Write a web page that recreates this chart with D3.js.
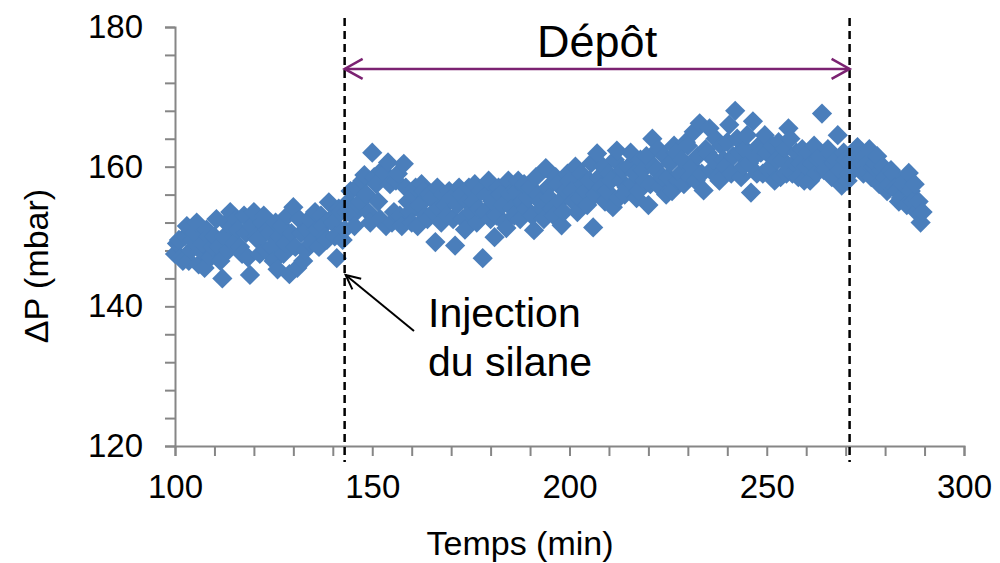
<!DOCTYPE html>
<html>
<head>
<meta charset="utf-8">
<script src="https://cdn.jsdelivr.net/npm/d3@7"></script>
<style>
  html, body { margin: 0; padding: 0; background: #fff; }
  svg { display: block; font-family: "Liberation Sans", Arial, sans-serif; }
</style>
</head>
<body>
<svg id="chart" width="1000" height="563"></svg>
<script>
// ---- Data ----
const times = [
  100,101,102,103,104,105,106,107,108,109,110,111,112,113,114,115,116,117,118,119,
  120,121,122,123,124,125,126,127,128,129,130,131,132,133,134,135,136,137,138,139,
  140,141,142,143,144,145,146,147,148,149,150,151,152,153,154,155,156,157,158,159,
  160,161,162,163,164,165,166,167,168,169,170,171,172,173,174,175,176,177,178,179,
  180,181,182,183,184,185,186,187,188,189,190,191,192,193,194,195,196,197,198,199,
  200,201,202,203,204,205,206,207,208,209,210,211,212,213,214,215,216,217,218,219,
  220,221,222,223,224,225,226,227,228,229,230,231,232,233,234,235,236,237,238,239,
  240,241,242,243,244,245,246,247,248,249,250,251,252,253,254,255,256,257,258,259,
  260,261,262,263,264,265,266,267,268,269,270,271,272,273,274,275,276,277,278,279,
  280,281,282,283,284,285,286,287,288,289
];
const deltaP = [
  147.5,149.5,146.5,151.5,148,150.5,146,149,151,147,150,148.5,144,152,153.5,149,151,147.5,150.5,144.5,
  153.5,149.5,152,148,150.5,146.5,145.3,151.5,149,144.6,154.2,145.5,150.5,148,152.5,149.5,151,153,150,154.9,
  152,146.9,153.5,151,155,153,157,155,158.8,153.5,162,157.5,152.5,159,160.6,152,158,153,160.4,155,
  152,157,154.5,156.5,152.5,155.5,149.2,154,156,153,155.5,148.7,157,152.5,155,153.5,157.5,154,146.9,156,
  152.5,149.9,157,154.5,151.2,156,153,158,155,154,157,150.9,156,154,159.8,155.5,153,157.5,151.6,156.5,
  158,155,153.5,159,156.5,158,151.3,161.9,157,155,159,154.2,162.3,158,156,160,157.5,155.5,161,158,
  154.5,164,159.5,157,161.5,158.5,156.5,162,159,157.5,163,160,158,166.2,156.6,162,159.5,164,158,161,
  163.5,159,168,162,160,164.5,156.3,161.5,163,159,162,160,158,163.5,161,159,164,160.5,158.5,162.5,
  160,158,163,161,167.6,159.5,162,160.5,164.5,157.3,161,159,162,162.8,160.5,161.5,162.5,160,161.5,159.5,
  158.5,157.5,159,156.5,155.5,158,159.1,155,153.5,152
];
const timesHalf = [
  100.5,101.5,102.5,103.5,104.5,105.5,106.5,107.5,108.5,109.5,110.5,111.5,112.5,113.5,114.5,115.5,116.5,117.5,118.5,119.5,
  120.5,121.5,122.5,123.5,124.5,125.5,126.5,127.5,128.5,129.5,130.5,131.5,132.5,133.5,134.5,135.5,136.5,137.5,138.5,139.5,
  140.5,141.5,142.5,143.5,144.5,145.5,146.5,147.5,148.5,149.5,150.5,151.5,152.5,153.5,154.5,155.5,156.5,157.5,158.5,159.5,
  160.5,161.5,162.5,163.5,164.5,165.5,166.5,167.5,168.5,169.5,170.5,171.5,172.5,173.5,174.5,175.5,176.5,177.5,178.5,179.5,
  180.5,181.5,182.5,183.5,184.5,185.5,186.5,187.5,188.5,189.5,190.5,191.5,192.5,193.5,194.5,195.5,196.5,197.5,198.5,199.5,
  200.5,201.5,202.5,203.5,204.5,205.5,206.5,207.5,208.5,209.5,210.5,211.5,212.5,213.5,214.5,215.5,216.5,217.5,218.5,219.5,
  220.5,221.5,222.5,223.5,224.5,225.5,226.5,227.5,228.5,229.5,230.5,231.5,232.5,233.5,234.5,235.5,236.5,237.5,238.5,239.5,
  240.5,241.5,242.5,243.5,244.5,245.5,246.5,247.5,248.5,249.5,250.5,251.5,252.5,253.5,254.5,255.5,256.5,257.5,258.5,259.5,
  260.5,261.5,262.5,263.5,264.5,265.5,266.5,267.5,268.5,269.5,270.5,271.5,272.5,273.5,274.5,275.5,276.5,277.5,278.5,279.5,
  280.5,281.5,282.5,283.5,284.5,285.5,286.5,287.5,288.5,289.5
];
const deltaPHalf = [
  149,147,150,146.5,149.5,152,148,145.5,150,148.5,152.5,146.5,150,148,151.5,152.5,148.5,153,147,151.5,
  150,147.5,153,151,148.5,152,150,147.5,153,150.5,148.5,152.5,146.5,151,149,153.5,148.5,151.5,149.5,152.5,
  150,154,149.5,153.5,156.5,151.5,154.5,158,156,152,158.5,155,159.5,151.5,157.5,153.5,159,151.5,157,153.5,
  156,151.5,157.5,153,156,153.5,157,152,154.5,156.5,152.5,154.5,156,151,157,155,152,156.5,153.5,158,
  155,153,156,152,158,154,156.5,152.5,157.5,155.5,153,158.5,155,152.5,157,154,158.5,155,153.5,159,
  156.5,160,155.5,157.5,154.5,160.5,156,158.5,160,156.5,158,161,155.5,159.5,157,162,159,156.5,159.5,161.5,
  157.5,160,162.5,158.5,156,160.5,163,158,161,163.5,158.5,165,161.5,159,162.5,165.5,161,158.5,163,160,
  166,161.5,164,158.5,162.5,160.5,166.5,159,162,164.5,159.5,163,161,158.5,162.5,165.5,159,162,160.5,158,
  162,160.5,159,161.5,159.5,162.5,158.5,161,159.5,162,158,161,160,161.5,159,160.5,158.5,160.5,157.5,160,
  156.5,159.5,157,155,157.5,154.5,156.5,157.5,155,153.5
];
const xTickValues = [100,110,120,130,140,150,160,170,180,190,200,210,220,230,240,250,260,270,280,290,300];
const xTickLabels = [100,150,200,250,300];
const yTickValues = [120,124,128,132,136,140,144,148,152,156,160,164,168,172,176,180];
const yTickLabels = [120,140,160,180];
const xTitle = "Temps (min)";
const yTitle = "\u0394P (mbar)";
const markers = [143, 271];           // vertical dashed lines (min)
const depotLabel = "Dépôt";
const injectionLabel = ["Injection", "du silane"];

// ---- Scales ----
const svg = d3.select("#chart");
const x = d3.scaleLinear().domain([100, 300]).range([175, 964]);
const y = d3.scaleLinear().domain([120, 180]).range([446, 27]);

const axisColor = "#868686";

// ---- Axes ----
const xAxis = d3.axisBottom(x)
  .tickValues(xTickValues)
  .tickSize(10)
  .tickPadding(19)
  .tickFormat(d => xTickLabels.includes(d) ? d : "");
const gx = svg.append("g").attr("transform", `translate(0,${y(120)})`).call(xAxis);

const yAxis = d3.axisLeft(y)
  .tickValues(yTickValues)
  .tickSize(10)
  .tickPadding(22)
  .tickFormat(d => yTickLabels.includes(d) ? d : "");
const gy = svg.append("g").attr("transform", `translate(${x(100)},0)`).call(yAxis);

[gx, gy].forEach(g => {
  g.select(".domain").attr("stroke", axisColor).attr("stroke-width", 2);
  g.selectAll(".tick line").attr("stroke", axisColor).attr("stroke-width", 2);
  g.selectAll(".tick text").attr("fill", "#000").style("font-size", "33px")
    .style("font-family", "'Liberation Sans', Arial, sans-serif");
});

// ---- Points (diamonds) ----
const diamond = d3.symbol().type(d3.symbolSquare).size(205);
const pts = times.map((t, i) => ({ t, v: deltaP[i] }))
  .concat(timesHalf.map((t, i) => ({ t, v: deltaPHalf[i] })))
  .sort((a, b) => a.t - b.t);
svg.append("g").selectAll("path")
  .data(pts)
  .join("path")
  .attr("d", diamond)
  .attr("transform", d => `translate(${x(d.t)},${y(d.v)}) rotate(45)`)
  .attr("fill", "#4a7ebb");

// ---- Dashed vertical lines ----
svg.append("g").selectAll("line")
  .data(markers)
  .join("line")
  .attr("x1", d => x(d)).attr("x2", d => x(d))
  .attr("y1", y(180) - 9).attr("y2", y(120) + 16)
  .attr("stroke", "#000").attr("stroke-width", 2.5)
  .attr("stroke-dasharray", "8,5");

// ---- Double arrow "Dépôt" ----
const purple = "#7b2272";
const ay = y(174);
const ax1 = x(markers[0]), ax2 = x(markers[1]);
svg.append("line").attr("x1", ax1).attr("x2", ax2).attr("y1", ay).attr("y2", ay)
  .attr("stroke", purple).attr("stroke-width", 2.5);
svg.append("path")
  .attr("d", `M${ax1 + 18},${ay - 10} L${ax1},${ay} L${ax1 + 18},${ay + 10}`)
  .attr("fill", "none").attr("stroke", purple).attr("stroke-width", 2.5);
svg.append("path")
  .attr("d", `M${ax2 - 18},${ay - 10} L${ax2},${ay} L${ax2 - 18},${ay + 10}`)
  .attr("fill", "none").attr("stroke", purple).attr("stroke-width", 2.5);
svg.append("text").attr("x", (ax1 + ax2) / 2).attr("y", 57)
  .attr("text-anchor", "middle").style("font-size", "45px").text(depotLabel);

// ---- Injection annotation ----
const tipX = x(markers[0]) + 1, tipY = y(144.5);
const tailX = 414, tailY = 331;
svg.append("line").attr("x1", tailX).attr("y1", tailY).attr("x2", tipX).attr("y2", tipY)
  .attr("stroke", "#000").attr("stroke-width", 2);
const ang = Math.atan2(tailY - tipY, tailX - tipX);
const hl = 16, ha = 0.45;
svg.append("path")
  .attr("d", `M${tipX + hl * Math.cos(ang - ha)},${tipY + hl * Math.sin(ang - ha)} L${tipX},${tipY} L${tipX + hl * Math.cos(ang + ha)},${tipY + hl * Math.sin(ang + ha)}`)
  .attr("fill", "none").attr("stroke", "#000").attr("stroke-width", 2);
svg.append("text").attr("x", 428).attr("y", 327).style("font-size", "41px").text(injectionLabel[0]);
svg.append("text").attr("x", 428).attr("y", 376).style("font-size", "41px").text(injectionLabel[1]);

// ---- Axis titles ----
svg.append("text").attr("x", 520).attr("y", 555).attr("text-anchor", "middle")
  .style("font-size", "34px").text(xTitle);
svg.append("text").attr("transform", "translate(48,266) rotate(-90)")
  .attr("text-anchor", "middle").style("font-size", "34px").text(yTitle);
</script>
</body>
</html>
